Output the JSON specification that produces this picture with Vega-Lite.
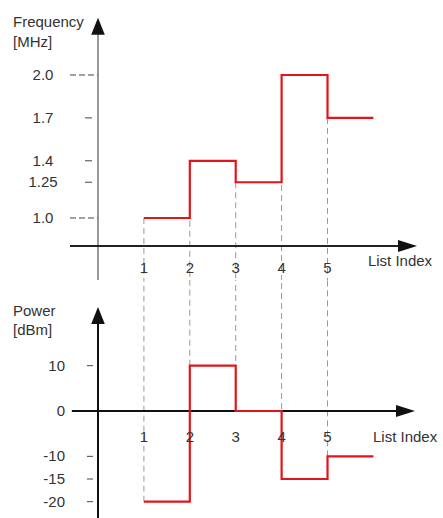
{
  "$schema": "https://vega.github.io/schema/vega-lite/v6.json",
  "padding": 0,
  "spacing": 0,
  "bounds": "flush",
  "background": "white",
  "config": {
    "view": {"stroke": null},
    "axis": {"disable": true},
    "text": {"font": "Liberation Sans", "fontSize": 15, "color": "#333333"}
  },
  "datasets": {
    "freq": [
      {"index": 1, "value": 1.0},
      {"index": 2, "value": 1.4},
      {"index": 3, "value": 1.25},
      {"index": 4, "value": 2.0},
      {"index": 5, "value": 1.7},
      {"index": 6, "value": 1.7}
    ],
    "power": [
      {"index": 1, "value": -20},
      {"index": 2, "value": 10},
      {"index": 3, "value": 0},
      {"index": 4, "value": -15},
      {"index": 5, "value": -10},
      {"index": 6, "value": -10}
    ],
    "freqTicks": [
      {"value": 2.0, "label": "2.0"},
      {"value": 1.7, "label": "1.7"},
      {"value": 1.4, "label": "1.4"},
      {"value": 1.25, "label": "1.25"},
      {"value": 1.0, "label": "1.0"}
    ],
    "powerTicks": [
      {"value": 10, "label": "10"},
      {"value": 0, "label": "0"},
      {"value": -10, "label": "-10"},
      {"value": -15, "label": "-15"},
      {"value": -20, "label": "-20"}
    ]
  },
  "vconcat": [
    {
      "width": 443,
      "height": 280,
      "layer": [
        {
          "data": {"name": "freq"},
          "transform": [{"filter": "datum.index <= 5"}],
          "mark": {"type": "rule", "color": "#9a9a9a", "strokeWidth": 1, "strokeDash": [6, 4]},
          "encoding": {
            "x": {"field": "index", "type": "quantitative", "scale": {"domain": [-2.135, 7.516], "nice": false, "zero": false}, "axis": null},
            "y": {"field": "value", "type": "quantitative", "scale": {"domain": [0.5664, 2.5245], "nice": false, "zero": false}, "axis": null},
            "y2": {"value": "height"}
          }
        },
        {
          "data": {"name": "freqTicks"},
          "transform": [{"filter": "datum.label == '1.0' || datum.label == '2.0'"}],
          "mark": {"type": "rule", "color": "#444444", "strokeWidth": 1, "strokeDash": [6, 3]},
          "encoding": {
            "x": {"datum": -0.61, "type": "quantitative"},
            "x2": {"datum": 0},
            "y": {"field": "value", "type": "quantitative"}
          }
        },
        {
          "data": {"name": "freqTicks"},
          "transform": [{"filter": "datum.label != '1.0' && datum.label != '2.0'"}],
          "mark": {"type": "rule", "color": "#444444", "strokeWidth": 1},
          "encoding": {
            "x": {"datum": -0.283, "type": "quantitative"},
            "x2": {"datum": -0.13},
            "y": {"field": "value", "type": "quantitative"}
          }
        },
        {
          "data": {"name": "freqTicks"},
          "mark": {"type": "text", "align": "center", "baseline": "middle"},
          "encoding": {
            "x": {"datum": -1.198, "type": "quantitative"},
            "y": {"field": "value", "type": "quantitative"},
            "text": {"field": "label"}
          }
        },
        {
          "data": {"values": [{}]},
          "mark": {"type": "rule", "color": "#555555", "strokeWidth": 1.2},
          "encoding": {
            "x": {"datum": 0, "type": "quantitative"},
            "y": {"datum": 2.38, "type": "quantitative"},
            "y2": {"value": "height"}
          }
        },
        {
          "data": {"values": [{}]},
          "mark": {"type": "rule", "color": "#222222", "strokeWidth": 2},
          "encoding": {
            "x": {"datum": -0.61, "type": "quantitative"},
            "x2": {"datum": 6.8},
            "y": {"datum": 0.8042, "type": "quantitative"}
          }
        },
        {
          "data": {"values": [{}]},
          "mark": {"type": "point", "shape": "M0,0L-2,-0.63L-2,0.63Z", "filled": true, "size": 361, "color": "#111111", "opacity": 1},
          "encoding": {
            "x": {"datum": 6.95, "type": "quantitative"},
            "y": {"datum": 0.8042, "type": "quantitative"}
          }
        },
        {
          "data": {"values": [{}]},
          "mark": {"type": "point", "shape": "M0,0L-0.8,2L0.8,2Z", "filled": true, "size": 289, "color": "#111111", "opacity": 1},
          "encoding": {
            "x": {"datum": 0, "type": "quantitative"},
            "y": {"datum": 2.4, "type": "quantitative"}
          }
        },
        {
          "data": {"name": "freq"},
          "mark": {"type": "line", "interpolate": "step-after", "color": "#e3151b", "strokeWidth": 2.2},
          "encoding": {
            "x": {"field": "index", "type": "quantitative"},
            "y": {"field": "value", "type": "quantitative"}
          }
        },
        {
          "data": {"name": "freq"},
          "transform": [{"filter": "datum.index <= 5"}],
          "mark": {"type": "text", "align": "center", "baseline": "middle"},
          "encoding": {
            "x": {"field": "index", "type": "quantitative"},
            "y": {"datum": 0.65, "type": "quantitative"},
            "text": {"field": "index"}
          }
        },
        {
          "data": {"values": [{}]},
          "mark": {"type": "text", "text": "List Index", "align": "left", "baseline": "middle"},
          "encoding": {
            "x": {"datum": 5.88, "type": "quantitative"},
            "y": {"datum": 0.699, "type": "quantitative"}
          }
        },
        {
          "data": {"values": [{}]},
          "mark": {"type": "text", "text": ["Frequency", "[MHz]"], "lineHeight": 20, "align": "left", "baseline": "alphabetic"},
          "encoding": {
            "x": {"datum": -1.852, "type": "quantitative"},
            "y": {"datum": 2.336, "type": "quantitative"}
          }
        }
      ]
    },
    {
      "width": 443,
      "height": 238,
      "layer": [
        {
          "data": {"name": "power"},
          "transform": [{"filter": "datum.index <= 5"}],
          "mark": {"type": "rule", "color": "#9a9a9a", "strokeWidth": 1, "strokeDash": [6, 4]},
          "encoding": {
            "x": {"field": "index", "type": "quantitative", "scale": {"domain": [-2.135, 7.516], "nice": false, "zero": false}, "axis": null},
            "y": {"field": "value", "type": "quantitative", "scale": {"domain": [-23.6, 28.9], "nice": false, "zero": false}, "axis": null},
            "y2": {"value": 0}
          }
        },
        {
          "data": {"name": "powerTicks"},
          "transform": [{"filter": "datum.value != 0"}],
          "mark": {"type": "rule", "color": "#444444", "strokeWidth": 1},
          "encoding": {
            "x": {"datum": -0.24, "type": "quantitative"},
            "x2": {"datum": -0.11},
            "y": {"field": "value", "type": "quantitative"}
          }
        },
        {
          "data": {"name": "powerTicks"},
          "mark": {"type": "text", "align": "right", "baseline": "middle"},
          "encoding": {
            "x": {"datum": -0.719, "type": "quantitative"},
            "y": {"field": "value", "type": "quantitative"},
            "text": {"field": "label"}
          }
        },
        {
          "data": {"values": [{}]},
          "mark": {"type": "rule", "color": "#111111", "strokeWidth": 2},
          "encoding": {
            "x": {"datum": 0, "type": "quantitative"},
            "y": {"datum": 22.5, "type": "quantitative"},
            "y2": {"value": "height"}
          }
        },
        {
          "data": {"values": [{}]},
          "mark": {"type": "rule", "color": "#111111", "strokeWidth": 2},
          "encoding": {
            "x": {"datum": -0.57, "type": "quantitative"},
            "x2": {"datum": 6.75},
            "y": {"datum": 0, "type": "quantitative"}
          }
        },
        {
          "data": {"values": [{}]},
          "mark": {"type": "point", "shape": "M0,0L-2,-0.63L-2,0.63Z", "filled": true, "size": 361, "color": "#111111", "opacity": 1},
          "encoding": {
            "x": {"datum": 6.906, "type": "quantitative"},
            "y": {"datum": 0, "type": "quantitative"}
          }
        },
        {
          "data": {"values": [{}]},
          "mark": {"type": "point", "shape": "M0,0L-0.8,2L0.8,2Z", "filled": true, "size": 289, "color": "#111111", "opacity": 1},
          "encoding": {
            "x": {"datum": 0, "type": "quantitative"},
            "y": {"datum": 22.94, "type": "quantitative"}
          }
        },
        {
          "data": {"name": "power"},
          "mark": {"type": "line", "interpolate": "step-after", "color": "#e3151b", "strokeWidth": 2.2},
          "encoding": {
            "x": {"field": "index", "type": "quantitative"},
            "y": {"field": "value", "type": "quantitative"}
          }
        },
        {
          "data": {"name": "power"},
          "transform": [{"filter": "datum.index <= 5"}],
          "mark": {"type": "text", "align": "center", "baseline": "middle"},
          "encoding": {
            "x": {"field": "index", "type": "quantitative"},
            "y": {"datum": -5.63, "type": "quantitative"},
            "text": {"field": "index"}
          }
        },
        {
          "data": {"values": [{}]},
          "mark": {"type": "text", "text": "List Index", "align": "left", "baseline": "middle"},
          "encoding": {
            "x": {"datum": 5.99, "type": "quantitative"},
            "y": {"datum": -5.74, "type": "quantitative"}
          }
        },
        {
          "data": {"values": [{}]},
          "mark": {"type": "text", "text": ["Power", "[dBm]"], "lineHeight": 19, "align": "left", "baseline": "alphabetic"},
          "encoding": {
            "x": {"datum": -1.852, "type": "quantitative"},
            "y": {"datum": 20.96, "type": "quantitative"}
          }
        }
      ]
    }
  ]
}
